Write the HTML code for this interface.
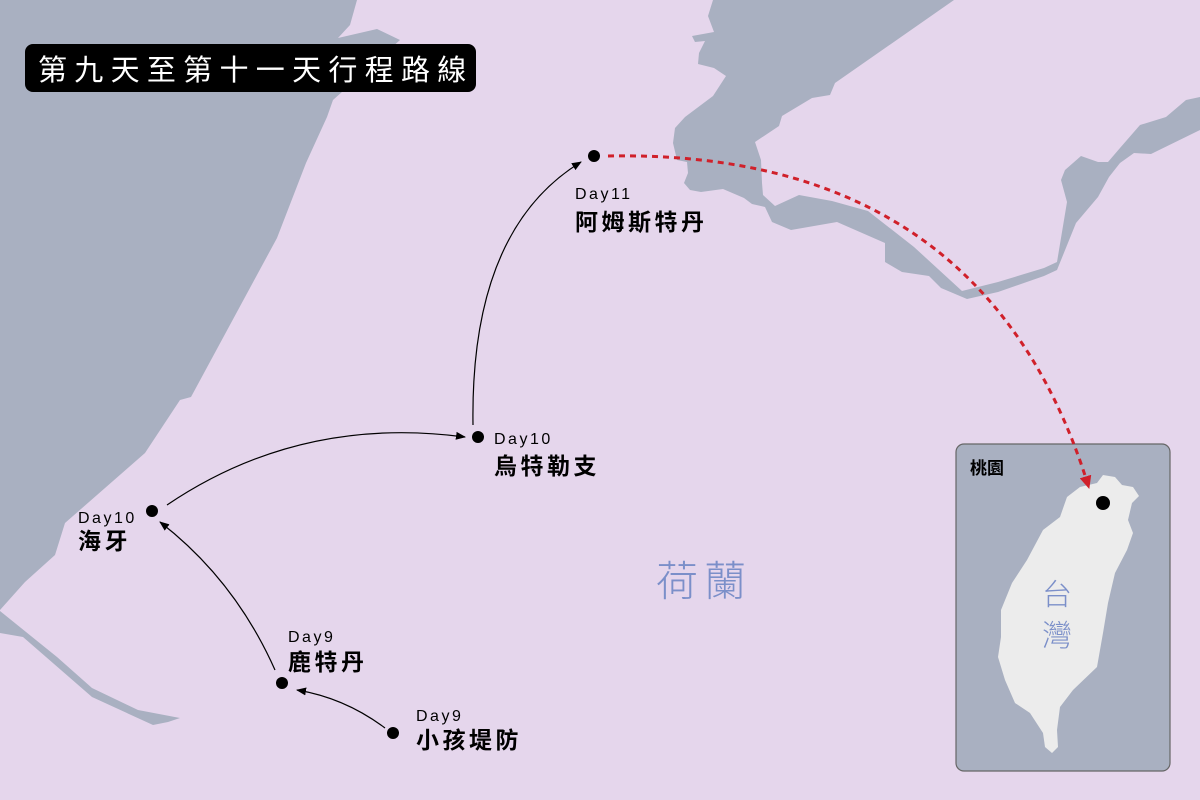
<!DOCTYPE html>
<html><head><meta charset="utf-8"><style>
html,body{margin:0;padding:0;background:#e5d6ec;}
svg{display:block}
text{font-family:"Liberation Sans","Noto Sans CJK TC",sans-serif;}
</style></head><body>
<svg width="1200" height="800" viewBox="0 0 1200 800" xmlns="http://www.w3.org/2000/svg">
<defs>
<marker id="ab" markerWidth="10" markerHeight="10" refX="9" refY="5" orient="auto" markerUnits="userSpaceOnUse"><path d="M0,1 L10,5 L0,9 z" fill="#000"/></marker>
<marker id="ar" markerWidth="14" markerHeight="14" refX="12" refY="7" orient="auto" markerUnits="userSpaceOnUse"><path d="M0,1 L13,7 L0,13 z" fill="#d0202a"/></marker>
</defs>
<rect width="1200" height="800" fill="#e5d6ec"/>
<polygon fill="#a9b0c1" points="0,0 357,0 350,25 338,38 377,29 400,40 333,100 327,117 306,163 277,238 191,397 180,400 145,453 65,523 55,555 25,582 0,610"/>
<polygon fill="#a9b0c1" points="0,611 57,657 92,688 138,710 180,718 168,722 153,725 92,697 23,637 0,633"/>
<polygon fill="#a9b0c1" points="713,0 708,16 714,32 692,36 695,42 705,41 699,53 698,64 714,68 726,76 713,96 685,117 675,128 673,143 677,160 687,162 688,173 684,183 690,190 701,192 723,189 744,198 752,204 765,207 772,222 791,230 837,222 885,243 885,262 902,272 929,276 941,288 967,299 998,292 1044,276 1057,270 1076,223 1098,197 1109,177 1120,163 1134,153 1151,154 1200,130 1200,97 1186,100 1166,117 1140,125 1120,148 1108,162 1098,162 1081,156 1065,170 1061,180 1067,202 1057,262 1044,268 998,282 962,291 914,247 868,211 832,201 799,195 775,206 763,195 762,183 761,160 755,142 779,126 782,116 812,98 830,95 835,83 954,0"/>
<rect x="25" y="44" width="451" height="48" rx="8" fill="#000"/>
<text x="38" y="80" font-size="29" fill="#fff" letter-spacing="7.3">第九天至第十一天行程路線</text>
<text x="656" y="596" font-size="42" fill="#7b8fc9" letter-spacing="6" font-weight="300">荷蘭</text>
<rect x="956" y="444" width="214" height="327" rx="8" fill="#a9b0c1" stroke="#666" stroke-width="1.2"/>
<path fill="#ececec" d="M1103,475 L1115,477 L1122,485 L1133,487 L1139,496 L1132,503 L1128,520 L1133,533 L1127,550 L1115,573 L1108,603 L1103,633 L1097,667 L1073,690 L1060,707 L1057,730 L1058,747 L1052,753 L1045,747 L1043,733 L1030,713 L1015,703 L1005,680 L998,657 L1001,637 L1001,610 L1012,583 L1027,560 L1043,530 L1060,517 L1067,497 L1080,487 L1097,483 Z"/>
<text x="970" y="474" font-size="17" font-weight="bold" fill="#000">桃園</text>
<text x="1042" y="605" font-size="30" fill="#7b8fc9" font-weight="300">台</text>
<text x="1042" y="646" font-size="30" fill="#7b8fc9" font-weight="300">灣</text>
<circle cx="1103" cy="503" r="7" fill="#000"/>
<path d="M385,728 Q345,698 297,690" fill="none" stroke="#000" stroke-width="1.2" marker-end="url(#ab)"/>
<path d="M275,670 Q235,580 160,522" fill="none" stroke="#000" stroke-width="1.2" marker-end="url(#ab)"/>
<path d="M167,505 Q300,415 465,437" fill="none" stroke="#000" stroke-width="1.2" marker-end="url(#ab)"/>
<path d="M473,425 Q470,230 581,162" fill="none" stroke="#000" stroke-width="1.2" marker-end="url(#ab)"/>
<path d="M608,156 C820,152 1010,230 1089,488" fill="none" stroke="#d0202a" stroke-width="3" stroke-dasharray="6,5" marker-end="url(#ar)"/>
<circle cx="594" cy="156" r="6" fill="#000"/>
<circle cx="478" cy="437" r="6" fill="#000"/>
<circle cx="152" cy="511" r="6" fill="#000"/>
<circle cx="282" cy="683" r="6" fill="#000"/>
<circle cx="393" cy="733" r="6" fill="#000"/>
<g font-size="16" fill="#000" letter-spacing="2.5">
<text x="575" y="199">Day11</text>
<text x="494" y="444">Day10</text>
<text x="78" y="523">Day10</text>
<text x="288" y="642">Day9</text>
<text x="416" y="721">Day9</text>
</g>
<g font-size="23" font-weight="bold" fill="#000" letter-spacing="3.5">
<text x="575" y="230">阿姆斯特丹</text>
<text x="494" y="474">烏特勒支</text>
<text x="78" y="549">海牙</text>
<text x="288" y="670">鹿特丹</text>
<text x="416" y="748">小孩堤防</text>
</g>
</svg>
</body></html>
